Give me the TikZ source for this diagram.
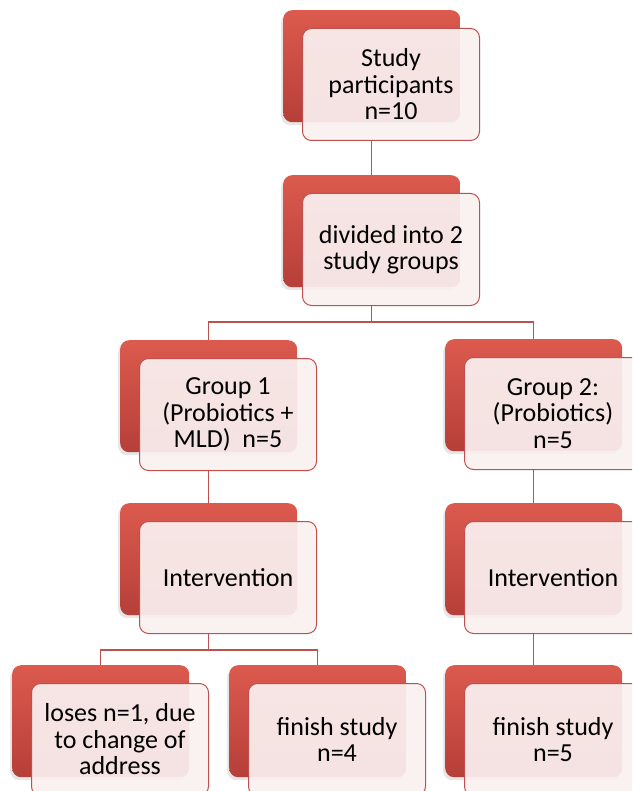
\documentclass[tikz,border=0pt]{standalone}
\usepackage{fontspec}
\setmainfont{Carlito}
\usetikzlibrary{shadows}
\definecolor{boxred}{HTML}{C0504D}
\definecolor{backtop}{HTML}{DC5A4E}
\definecolor{backbot}{HTML}{B63F39}
\definecolor{frontfill}{HTML}{FAF0F0}
\newcommand{\flowstage}[4]{%
  \node[backbox] (#1b) at (#2,#3) {};
  \node[frontbox] (#1) at ([xshift=19pt, yshift=-18pt]#1b.north west) {#4};}

\begin{document}
\begin{tikzpicture}[
    x = 1pt, y = -1pt,
    every node/.style = {font = \fontsize{26}{26.5}\selectfont},
    backbox/.style = {rectangle, rounded corners = 9pt, anchor = north west,
        minimum width = 177pt, minimum height = 112pt,
        top color = backtop, bottom color = backbot,
        drop shadow = {shadow xshift = -2pt, shadow yshift = -3pt, opacity = 0.2}},
    frontbox/.style = {rectangle, rounded corners = 9pt, anchor = north west,
        minimum width = 177pt, minimum height = 112pt, align = center,
        inner sep = 2pt, draw = boxred, line width = 1pt, fill = frontfill,
        fill opacity = 0.93, text opacity = 1},
    link/.style = {draw = boxred, line width = 1.2pt}]

\useasboundingbox (0,0) rectangle (632,791);
\clip (0,0) rectangle (632,791);

\flowstage{top}{283}{10}{Study\\participants\\n=10}
\flowstage{div}{283}{175}{divided into 2\\study groups}
\flowstage{gone}{120}{340}{Group 1\\(Probiotics +\\MLD)\ \ n=5}
\flowstage{gtwo}{445}{339}{Group 2:\\(Probiotics)\\n=5}
\flowstage{intone}{120}{503}{Intervention}
\flowstage{inttwo}{445}{503}{Intervention}
\flowstage{loss}{12}{665}{loses n=1, due\\to change of\\address}
\flowstage{finone}{229}{665}{finish study\\n=4}
\flowstage{fintwo}{445}{665}{finish study\\n=5}

% connectors
\draw[link] (topb.center |- top.south) -- (divb.north);
\draw[link] (divb.center |- div.south) -- ++(0,16) coordinate (splitA)
    -| (goneb.north) (splitA) -| (gtwob.north);
\draw[link] (goneb.center |- gone.south) -- (intoneb.north);
\draw[link] (gtwob.center |- gtwo.south) -- (inttwob.north);
\draw[link] (intoneb.center |- intone.south) -- ++(0,16) coordinate (splitB)
    -| (lossb.north) (splitB) -| (finoneb.north);
\draw[link] (inttwob.center |- inttwo.south) -- (fintwob.north);
\end{tikzpicture}
\end{document}
